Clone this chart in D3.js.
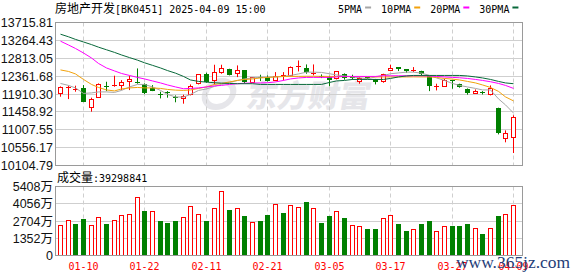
<!DOCTYPE html>
<html>
<head>
<meta charset="utf-8">
<script src="https://cdn.jsdelivr.net/npm/d3@7"></script>
<style>
body { margin: 0; background: #fff; }
svg { display: block; }
</style>
</head>
<body>
<svg id="chart" width="578" height="276"></svg>
<script>
// 房地产开发 BK0451, daily candles 2025-01-07 .. 2025-04-09
var dates = ["01-07","01-08","01-09","01-10","01-13","01-14","01-15","01-16","01-17","01-20",
	"01-21","01-22","01-23","01-24","01-27","02-05","02-06","02-07","02-10","02-11",
	"02-12","02-13","02-14","02-17","02-18","02-19","02-20","02-21","02-24","02-25",
	"02-26","02-27","02-28","03-03","03-04","03-05","03-06","03-07","03-10","03-11",
	"03-12","03-13","03-14","03-17","03-18","03-19","03-20","03-21","03-24","03-25",
	"03-26","03-27","03-28","03-31","04-01","04-02","04-03","04-07","04-08","04-09"];

var opens = [11908,12064,12019,12069,11580,11817,12120,12130,12120,12220,12215,12152,12069,11918,11950,11825,11817,11900,12170,12422,
	12253,12447,12531,12422,12506,12195,12337,12337,12271,12367,12379,12606,12564,12412,12362,12337,12296,12422,12329,12236,
	12321,12278,12236,12506,12581,12531,12498,12489,12379,12102,12110,12258,12170,12044,11933,11951,11893,11565,10773,10808];
var highs = [12102,12120,12120,12135,11817,12178,12220,12372,12261,12372,12556,12178,12135,11968,11983,11875,11893,12152,12405,12447,
	12649,12649,12548,12632,12506,12337,12397,12380,12463,12463,12606,12757,12657,12657,12405,12372,12480,12430,12397,12337,
	12336,12291,12422,12649,12581,12531,12590,12498,12379,12170,12296,12261,12170,12051,12026,11983,12127,11565,10992,11371];
var lows = [11842,11782,11968,11706,11464,11817,11983,12094,12009,12009,12170,11908,11983,11799,11817,11701,11666,11875,12152,12195,
	12152,12422,12380,12337,12170,12185,12236,12228,12236,12253,12354,12480,12422,12380,12312,12110,12278,12271,12271,12170,
	12286,12152,12195,12506,12489,12447,12463,12362,11983,12001,12110,12044,12069,11893,11933,11899,11875,10891,10690,10420];
var closes = [12069,12089,12044,11716,11774,12152,12094,12145,12203,12278,12195,11925,11983,11900,11925,11807,11857,12110,12397,12211,
	12447,12548,12392,12506,12211,12321,12312,12236,12362,12380,12573,12624,12463,12430,12346,12253,12480,12312,12312,12312,
	12311,12195,12405,12564,12531,12481,12513,12405,12102,12114,12253,12241,12102,11933,11976,11933,12044,10924,10909,11313];

var ma5 = [12177,12127,12064,11925,11938,11963,11963,11950,12001,12089,12152,12152,12089,12001,11900,11837,11832,11900,12001,12038,
	12102,12152,12202,12253,12291,12316,12336,12336,12341,12354,12379,12417,12462,12462,12455,12422,12392,12366,12341,12321,
	12296,12341,12379,12422,12442,12462,12462,12437,12379,12316,12253,12177,12127,12089,12051,12013,12013,11787,11635,11429];
var ma10 = [12518,12480,12417,12278,12152,12076,12013,11988,12038,12064,12076,12064,12064,12051,12026,12008,12001,12013,12051,12089,
	12152,12177,12215,12253,12278,12291,12316,12329,12341,12354,12354,12356,12358,12358,12356,12354,12352,12350,12350,12352,
	12345,12343,12341,12341,12341,12341,12343,12341,12341,12329,12303,12286,12265,12228,12190,12139,12076,11976,11837,11736];
var ma20 = [13244,13148,13060,12946,12820,12682,12568,12493,12429,12379,12329,12291,12240,12190,12139,12089,12043,12051,12064,12089,
	12114,12127,12152,12170,12182,12190,12190,12195,12215,12253,12291,12316,12329,12329,12329,12329,12341,12354,12354,12354,
	12354,12354,12371,12371,12371,12371,12371,12371,12366,12354,12341,12329,12321,12303,12278,12253,12220,12177,12127,12051];
var ma30 = [13420,13355,13289,13224,13158,13093,13027,12961,12896,12830,12765,12699,12634,12568,12502,12437,12354,12265,12228,12210,
	12195,12185,12177,12170,12170,12170,12152,12152,12152,12152,12152,12152,12152,12152,12152,12202,12240,12253,12278,12278,
	12278,12278,12278,12303,12341,12366,12379,12379,12379,12379,12379,12379,12379,12366,12341,12316,12278,12228,12190,12170];

// volume in 万 (10,000 shares)
var volumes = [2351,2718,2508,2822,2325,2953,2508,2718,3109,3213,4519,3449,3422,2743,2586,2665,2953,3815,3213,2665,
	3658,4990,3605,3658,3135,2561,2743,3213,3997,3292,3919,3762,4154,3684,2586,3057,3422,2900,2325,2247,
	2116,2038,2874,3135,2430,1959,2012,2430,2665,1856,2247,2273,2273,2508,2090,1646,2090,3057,3213,3929.8841];
var volumeUp = [1,1,0,0,1,1,0,1,1,1,1,0,1,0,0,0,1,1,1,0,
	1,1,0,1,0,1,0,0,1,0,1,1,0,1,0,0,1,0,1,1,
	0,0,1,1,0,0,1,0,0,1,1,0,0,0,1,0,1,0,1,1];

var priceTicks = [13715.81,13264.43,12813.05,12361.68,11910.30,11458.92,11007.55,10556.17,10104.79];
var volumeTicks = [5408,4056,2704,1352,0];
var dateTicks = ["01-10","01-22","02-11","02-21","03-05","03-17","03-27","04-09"];

var maNames = ["5PMA","10PMA","20PMA","30PMA"];
var maColors = ["#a6a6a6","#f2a20c","#ff00ff","#08693a"];

var UP = "#ff0000";
var DOWN = "#008000";
var GRID = "#cfcfcf";
var FRAME = "#9a9a9a";
var CJK = "'Noto Sans CJK SC', sans-serif";
var MONO = "'DejaVu Sans Mono', monospace";
var NUM = "'Liberation Sans', 'Noto Sans CJK SC', sans-serif";

var LEFT = 55.5, RIGHT = 522.5;
var PRICE_TOP = 22.5, PRICE_BOTTOM = 165.5;
var VOL_TOP = 186.5, VOL_BOTTOM = 255.5;

var svg = d3.select("#chart");

var x = d3.scaleBand()
	.domain(d3.range(dates.length))
	.range([56, 517]);

function cx(i) {
	return Math.round(x(i) + x.bandwidth() / 2) + 0.5;
}

var y = d3.scaleLinear()
	.domain([priceTicks[priceTicks.length - 1], priceTicks[0]])
	.range([PRICE_BOTTOM, PRICE_TOP]);

var vy = d3.scaleLinear()
	.domain([0, volumeTicks[0]])
	.range([VOL_BOTTOM, VOL_TOP]);

function crisp(v) { return Math.round(v - 0.5) + 0.5; }

// watermark
var wm = svg.append("g")
	.attr("transform", "translate(0,0)");
wm.append("ellipse")
	.attr("cx", 219).attr("cy", 94)
	.attr("rx", 14).attr("ry", 13)
	.attr("fill", "none")
	.attr("stroke", "#e6e6ea")
	.attr("stroke-width", 6)
	.attr("transform", "skewX(-12) translate(20,0)");
wm.append("text")
	.attr("x", 246).attr("y", 107)
	.attr("transform", "skewX(-10) translate(18,0)")
	.style("font-family", CJK)
	.style("font-size", "31px")
	.style("font-weight", "900")
	.style("fill", "#e6e6ea")
	.text("东方财富");

// horizontal grid, price panel
svg.append("g").selectAll("line")
	.data(priceTicks.slice(1, -1))
	.enter()
	.append("line")
	.attr("x1", LEFT).attr("x2", RIGHT)
	.attr("y1", function(d) { return crisp(y(d)); })
	.attr("y2", function(d) { return crisp(y(d)); })
	.attr("stroke", GRID);

// horizontal grid, volume panel
svg.append("g").selectAll("line")
	.data(volumeTicks.slice(1, -1))
	.enter()
	.append("line")
	.attr("x1", LEFT).attr("x2", RIGHT)
	.attr("y1", function(d) { return crisp(vy(d)); })
	.attr("y2", function(d) { return crisp(vy(d)); })
	.attr("stroke", GRID);

var tickIdx = dateTicks.map(function(d) { return dates.indexOf(d); });

// vertical dashed grid
[[PRICE_TOP, PRICE_BOTTOM], [VOL_TOP, VOL_BOTTOM]].forEach(function(r) {
	svg.append("g").selectAll("line")
		.data(tickIdx)
		.enter()
		.append("line")
		.attr("x1", function(i) { return cx(i); })
		.attr("x2", function(i) { return cx(i); })
		.attr("y1", r[0]).attr("y2", r[1])
		.attr("stroke", GRID)
		.attr("stroke-dasharray", "4,3");
});

// candles
var candles = dates.map(function(d, i) {
	return { i: i, date: d, o: opens[i], h: highs[i], l: lows[i], c: closes[i] };
});

var cg = svg.append("g");

cg.selectAll("line.wick")
	.data(candles)
	.enter()
	.append("line")
	.attr("class", "wick")
	.attr("x1", function(d) { return cx(d.i); })
	.attr("x2", function(d) { return cx(d.i); })
	.attr("y1", function(d) { return y(d.h); })
	.attr("y2", function(d) { return y(d.l); })
	.attr("stroke", function(d) { return d.c >= d.o ? UP : DOWN; });

candles.forEach(function(d) {
	var col = d.c >= d.o ? UP : DOWN;
	var top = y(Math.max(d.o, d.c));
	var bot = y(Math.min(d.o, d.c));
	if (bot - top < 1.5) {
		cg.append("line")
			.attr("x1", cx(d.i) - 2.5).attr("x2", cx(d.i) + 2.5)
			.attr("y1", crisp((top + bot) / 2)).attr("y2", crisp((top + bot) / 2))
			.attr("stroke", col);
	}
	else if (d.c >= d.o) {
		cg.append("rect")
			.attr("x", cx(d.i) - 2).attr("width", 4)
			.attr("y", crisp(top)).attr("height", Math.round(bot - top))
			.attr("fill", "#fff")
			.attr("stroke", UP);
	}
	else {
		cg.append("rect")
			.attr("x", cx(d.i) - 2.5).attr("width", 5)
			.attr("y", Math.round(top)).attr("height", Math.round(bot - top))
			.attr("fill", DOWN);
	}
});

// moving averages
var maSeries = [ma5, ma10, ma20, ma30];
var maLine = d3.line()
	.x(function(d, i) { return cx(i); })
	.y(function(d) { return y(d); });

svg.append("g").selectAll("path")
	.data(maSeries)
	.enter()
	.append("path")
	.attr("d", maLine)
	.attr("fill", "none")
	.attr("stroke", function(d, k) { return maColors[k]; })
	.attr("stroke-width", 1);

// volume bars
var vg = svg.append("g");
volumes.forEach(function(v, i) {
	if (volumeUp[i]) {
		vg.append("rect")
			.attr("x", cx(i) - 2).attr("width", 4)
			.attr("y", crisp(vy(v))).attr("height", VOL_BOTTOM - crisp(vy(v)))
			.attr("fill", "#fff")
			.attr("stroke", UP);
	}
	else {
		vg.append("rect")
			.attr("x", cx(i) - 2.5).attr("width", 5)
			.attr("y", Math.round(vy(v))).attr("height", VOL_BOTTOM - Math.round(vy(v)))
			.attr("fill", DOWN);
	}
});

// frames
svg.append("rect")
	.attr("x", LEFT).attr("y", PRICE_TOP)
	.attr("width", RIGHT - LEFT).attr("height", PRICE_BOTTOM - PRICE_TOP)
	.attr("fill", "none").attr("stroke", FRAME);
svg.append("rect")
	.attr("x", LEFT).attr("y", VOL_TOP)
	.attr("width", RIGHT - LEFT).attr("height", VOL_BOTTOM - VOL_TOP)
	.attr("fill", "none").attr("stroke", FRAME);

// price axis labels
svg.append("g").selectAll("text")
	.data(priceTicks)
	.enter()
	.append("text")
	.attr("x", 53)
	.attr("y", function(d) { return y(d) + 4.5; })
	.attr("text-anchor", "end")
	.style("font-family", NUM)
	.style("font-size", "12.5px")
	.style("fill", "#111")
	.text(function(d) { return d3.format(".2f")(d); });

// volume axis labels
svg.append("g").selectAll("text")
	.data(volumeTicks)
	.enter()
	.append("text")
	.attr("x", 53)
	.attr("y", function(d) { return vy(d) + 4.5; })
	.attr("text-anchor", "end")
	.style("font-family", NUM)
	.style("font-size", "12.5px")
	.style("fill", "#111")
	.text(function(d) { return d == 0 ? "0" : d + "万"; });

// date labels
svg.append("g").selectAll("text")
	.data(tickIdx)
	.enter()
	.append("text")
	.attr("x", function(i) { return cx(i); })
	.attr("y", 270)
	.attr("text-anchor", "middle")
	.style("font-family", MONO)
	.style("font-size", "10px")
	.style("fill", UP)
	.text(function(i) { return dates[i]; });

// title
var title = svg.append("text")
	.attr("x", 55).attr("y", 12.5)
	.style("fill", "#000");
title.append("tspan").style("font-family", CJK).style("font-size", "12px").text("房地产开发");
title.append("tspan").style("font-family", MONO).style("font-size", "10px").text("[BK0451] 2025-04-09 15:00");

// volume caption
var cap = svg.append("text")
	.attr("x", 57).attr("y", 182)
	.style("fill", "#000");
cap.append("tspan").style("font-family", CJK).style("font-size", "12px").text("成交量");
cap.append("tspan").style("font-family", MONO).style("font-size", "10px")
	.text(":" + Math.round(volumes[volumes.length - 1] * 10000));

// legend
var lx = 338;
maNames.forEach(function(name, k) {
	var t = svg.append("text")
		.attr("x", lx).attr("y", 12.5)
		.style("font-family", MONO)
		.style("font-size", "10px")
		.style("fill", "#000")
		.text(name);
	lx += t.node().getComputedTextLength() + 3;
	svg.append("rect")
		.attr("x", lx).attr("y", 6.5)
		.attr("width", 6).attr("height", 2)
		.attr("fill", maColors[k]);
	lx += 16;
});

// site watermark
svg.append("text")
	.attr("x", 456).attr("y", 268)
	.attr("textLength", 114)
	.attr("lengthAdjust", "spacingAndGlyphs")
	.style("font-family", "'Liberation Serif', serif")
	.style("font-size", "17px")
	.style("fill", "#243d78")
	.text("www.365jz.com");
</script>
</body>
</html>
